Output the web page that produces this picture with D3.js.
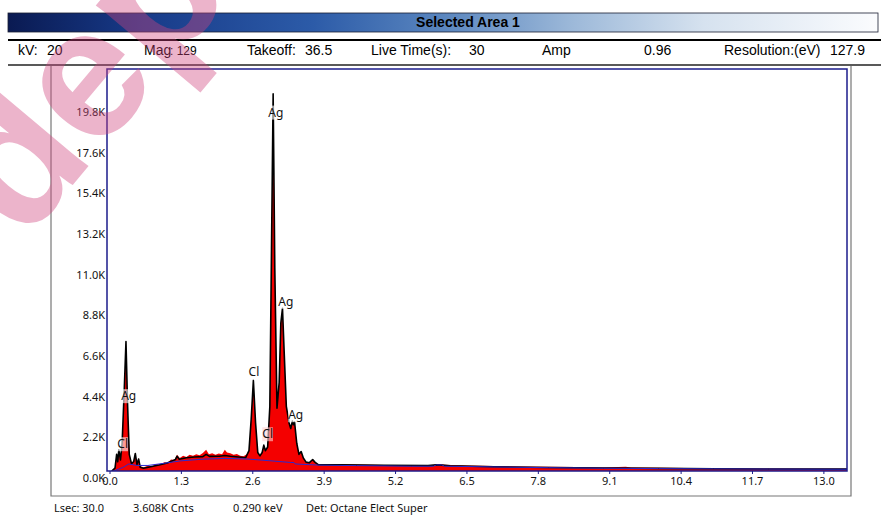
<!DOCTYPE html>
<html>
<head>
<meta charset="utf-8">
<script src="https://cdn.jsdelivr.net/npm/d3@7"></script>
<style>
body { margin: 0; background: #fff; }
svg { display: block; }
</style>
</head>
<body>
<div id="chart"></div>
<script>
// Header / acquisition info
const title = "Selected Area 1";
const infoLabels = ["kV:", "Mag", "Takeoff:", "Live Time(s):", "Amp", "", "Resolution:(eV)", ""];
const infoValues = ["20", ": 129", "36.5", "30", "", "0.96", "", "127.9"];
const footer = ["Lsec: 30.0", "3.608K Cnts", "0.290 keV", "Det: Octane Elect Super"];

// Axis ticks
const energyTicks = [0, 1.3, 2.6, 3.9, 5.2, 6.5, 7.8, 9.1, 10.4, 11.7, 13.0];
const countTicks = [0, 2200, 4400, 6600, 8800, 11000, 13200, 15400, 17600, 19800];

// Measured spectrum (red fill): keV, counts
const spectrumKeV = [0.04, 0.10, 0.13, 0.15, 0.17, 0.20, 0.23, 0.27, 0.30, 0.33, 0.36, 0.40, 0.44, 0.47, 0.50, 0.53, 0.56, 0.62, 0.70, 0.78, 0.85, 0.92, 1.00, 1.06, 1.12, 1.18, 1.23, 1.28, 1.34, 1.40, 1.46, 1.52, 1.58, 1.64, 1.70, 1.76, 1.81, 1.87, 1.93, 1.99, 2.05, 2.10, 2.14, 2.20, 2.26, 2.32, 2.38, 2.44, 2.50, 2.54, 2.58, 2.62, 2.66, 2.70, 2.74, 2.78, 2.81, 2.84, 2.88, 2.92, 2.95, 2.98, 3.01, 3.05, 3.09, 3.12, 3.15, 3.18, 3.22, 3.27, 3.30, 3.33, 3.35, 3.37, 3.41, 3.45, 3.49, 3.53, 3.58, 3.64, 3.70, 3.74, 3.80, 4.0, 4.5, 5.0, 5.5, 5.9, 6.0, 6.1, 6.5, 7.0, 7.5, 8.0, 8.5, 9.0, 9.4, 9.5, 10.0, 11.0, 12.0, 13.43];
const spectrumCounts = [0, 200, 950, 550, 1200, 650, 1500, 4300, 6900, 3400, 950, 450, 550, 1000, 400, 700, 260, 200, 280, 260, 380, 350, 480, 450, 620, 600, 880, 700, 820, 760, 880, 820, 900, 850, 980, 1150, 900, 960, 880, 950, 900, 1150, 1000, 960, 880, 920, 820, 800, 900, 1100, 2800, 4900, 2600, 1000, 820, 1000, 1400, 1100, 1300, 3500, 12000, 20400, 11000, 3400, 4800, 8000, 8800, 6500, 3500, 2600, 2300, 2700, 2500, 2650, 1500, 900, 1050, 700, 480, 450, 620, 480, 360, 380, 350, 330, 320, 330, 380, 340, 300, 270, 250, 230, 210, 190, 230, 190, 170, 150, 130, 120];

// Fitted spectrum (black line)
const fitKeV = [0.04, 0.10, 0.13, 0.15, 0.17, 0.20, 0.23, 0.27, 0.30, 0.33, 0.36, 0.40, 0.44, 0.47, 0.50, 0.53, 0.56, 0.62, 0.75, 0.90, 1.05, 1.15, 1.20, 1.23, 1.27, 1.40, 1.55, 1.70, 1.76, 1.82, 2.00, 2.10, 2.20, 2.35, 2.48, 2.54, 2.58, 2.62, 2.66, 2.70, 2.74, 2.78, 2.81, 2.84, 2.88, 2.92, 2.95, 2.98, 3.01, 3.05, 3.09, 3.12, 3.15, 3.18, 3.22, 3.27, 3.30, 3.33, 3.35, 3.37, 3.41, 3.45, 3.49, 3.53, 3.58, 3.64, 3.70, 3.74, 3.80, 4.2, 5.0, 5.8, 5.95, 6.05, 6.2, 7.0, 8.0, 9.0, 10.0, 11.0, 12.0, 13.43];
const fitCounts = [0, 150, 900, 500, 1150, 600, 1500, 4500, 7000, 3500, 900, 400, 500, 950, 350, 650, 200, 150, 230, 320, 430, 560, 620, 800, 640, 720, 760, 780, 900, 790, 800, 840, 800, 760, 720, 1100, 2800, 4900, 2600, 1000, 820, 1000, 1400, 1100, 1300, 3500, 12000, 20400, 11000, 3400, 4800, 8000, 8800, 6500, 3500, 2600, 2300, 2700, 2500, 2650, 1500, 900, 1050, 700, 480, 450, 620, 480, 340, 330, 310, 290, 330, 320, 280, 230, 190, 160, 140, 120, 110, 100];

// Background (blue line)
const bgKeV = [0.08, 0.25, 0.35, 0.5, 0.7, 1.0, 1.3, 1.7, 2.1, 2.5, 2.9, 3.3, 3.36, 3.38, 3.8, 4.5, 5.5, 5.9, 5.95, 6.05, 6.1, 7.0, 8.0, 9.0, 10.0, 11.0, 12.0, 13.43];
const bgCounts = [0, 200, 380, 300, 300, 420, 550, 640, 680, 650, 560, 460, 460, 380, 320, 290, 260, 260, 330, 330, 260, 220, 180, 150, 130, 115, 105, 95];

// Peak identifications
const peakNames = ["Cl", "Ag", "Cl", "Cl", "Ag", "Ag", "Ag"];
const peakKeV = [0.24, 0.35, 2.63, 2.88, 3.03, 3.21, 3.39];
const peakCounts = [1460, 4060, 5370, 2000, 19400, 9160, 3030];

const width = 881, height = 517;
const frame = { left: 107, top: 69, right: 847, bottom: 471 };

const svg = d3.select("#chart").append("svg")
    .attr("width", width)
    .attr("height", height);

const defs = svg.append("defs");
const grad = defs.append("linearGradient").attr("id", "hdr");
[[0, "#0a1a52"], [0.15, "#173a88"], [0.35, "#2c5ba8"], [0.5, "#5a86bf"], [0.65, "#9db9d9"], [0.8, "#d6e2ef"], [1, "#fbfcfe"]]
    .forEach(s => grad.append("stop").attr("offset", s[0]).attr("stop-color", s[1]));
defs.append("clipPath").attr("id", "plotclip")
    .append("rect")
    .attr("x", frame.left).attr("y", frame.top)
    .attr("width", frame.right - frame.left).attr("height", frame.bottom - frame.top);

// Title bar
svg.append("rect")
    .attr("x", 8).attr("y", 13).attr("width", 870).attr("height", 19)
    .attr("fill", "url(#hdr)")
    .attr("stroke", "#1b1f33").attr("stroke-width", 0.8);
svg.append("text")
    .attr("x", 468).attr("y", 27)
    .attr("text-anchor", "middle")
    .style("font", "bold 14px 'Liberation Sans', Arial, sans-serif")
    .text(title);

svg.append("line").attr("x1", 8).attr("x2", 881).attr("y1", 40).attr("y2", 40)
    .attr("stroke", "#000").attr("stroke-width", 2);
svg.append("line").attr("x1", 8).attr("x2", 881).attr("y1", 65).attr("y2", 65)
    .attr("stroke", "#222").attr("stroke-width", 1.5);

// Info row
const labelX = [18, 144, 247, 371, 542, 0, 724, 0];
const valueX = [47, 170, 305, 469, 0, 644, 0, 830];
infoLabels.forEach((t, i) => {
    if (!t) return;
    svg.append("text").attr("x", labelX[i]).attr("y", 55)
        .style("font", "14px 'Liberation Sans', Arial, sans-serif")
        .text(t);
});
infoValues.forEach((t, i) => {
    if (!t) return;
    svg.append("text").attr("x", valueX[i]).attr("y", 55)
        .style("font", (i === 1 ? "12px" : "14px") + " 'Liberation Sans', Arial, sans-serif")
        .text(t);
});

// Outer grey box
svg.append("path")
    .attr("d", "M51,66V496H851V66")
    .attr("fill", "none").attr("stroke", "#777").attr("stroke-width", 1.2);

// Scales
const x = d3.scaleLinear().domain([0, 13.43]).range([109.5, frame.right]);
const y = d3.scaleLinear().domain([0, 19800]).range([frame.bottom, 105]);

const plot = svg.append("g").attr("clip-path", "url(#plotclip)");

const spectrum = d3.zip(spectrumKeV, spectrumCounts);
const fit = d3.zip(fitKeV, fitCounts);
const bg = d3.zip(bgKeV, bgCounts);

plot.append("path")
    .datum(spectrum)
    .attr("fill", "#f40000")
    .attr("d", d3.area().x(d => x(d[0])).y0(frame.bottom).y1(d => y(d[1])));

plot.append("path")
    .datum(fit)
    .attr("fill", "none").attr("stroke", "#000").attr("stroke-width", 1.6)
    .attr("stroke-linejoin", "round")
    .attr("d", d3.line().x(d => x(d[0])).y(d => y(d[1])));

plot.append("path")
    .datum(bg)
    .attr("fill", "none").attr("stroke", "#2a2ad0").attr("stroke-width", 1)
    .attr("d", d3.line().x(d => x(d[0])).y(d => y(d[1])));

// Frame
svg.append("rect")
    .attr("x", frame.left).attr("y", frame.top)
    .attr("width", frame.right - frame.left).attr("height", frame.bottom - frame.top)
    .attr("fill", "none").attr("stroke", "#1c1c8c").attr("stroke-width", 1.5);

// Axes
const yAxis = svg.append("g")
    .attr("transform", "translate(106,0)")
    .call(d3.axisLeft(y).tickValues(countTicks).tickSize(0).tickPadding(1)
        .tickFormat(d => (d / 1000).toFixed(1) + "K"));
yAxis.select(".domain").remove();
yAxis.selectAll("text")
    .attr("dy", "0.95em")
    .style("font", "11px 'Noto Sans', sans-serif").attr("fill", "#111");

const xAxis = svg.append("g")
    .attr("transform", "translate(0," + frame.bottom + ")")
    .call(d3.axisBottom(x).tickValues(energyTicks).tickSize(3).tickFormat(d3.format(".1f")));
xAxis.select(".domain").remove();
xAxis.selectAll("line").attr("stroke", "#1c1c8c");
xAxis.selectAll("text")
    .style("font", "11px 'Noto Sans', sans-serif").attr("fill", "#111");

// Peak labels
peakNames.forEach((name, i) => {
    const g = svg.append("g").attr("transform", "translate(" + x(peakKeV[i]) + "," + y(peakCounts[i]) + ")");
    const t = g.append("text")
        .attr("text-anchor", "middle").attr("dy", "0.35em")
        .style("font", "12px 'Noto Sans', sans-serif").attr("fill", "#111")
        .text(name);
    const b = t.node().getBBox();
    g.insert("rect", "text")
        .attr("x", b.x).attr("y", b.y + 2).attr("width", b.width).attr("height", b.height - 3)
        .attr("fill", i === 3 ? "#ffd0d0" : "#fff").attr("opacity", 0.6);
});

// Footer
const footerX = [54, 133, 233, 306];
footer.forEach((t, i) => {
    svg.append("text").attr("x", footerX[i]).attr("y", 512)
        .style("font", "11px 'Noto Sans', sans-serif").attr("fill", "#111")
        .text(t);
});

// Watermark
svg.append("text")
    .attr("transform", "translate(92,162) rotate(-50)")
    .attr("x", -106)
    .style("font", "bold 185px 'Liberation Sans', Arial, sans-serif")
    .attr("fill", "#d0457f").attr("opacity", 0.4)
    .text("depo");
</script>
</body>
</html>
